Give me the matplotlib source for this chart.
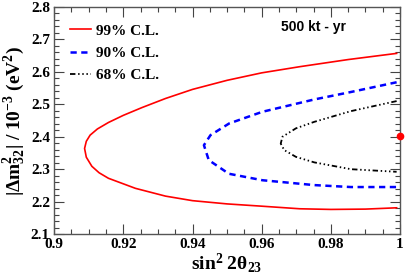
import numpy as np
import matplotlib
matplotlib.use("Agg")
import matplotlib.pyplot as plt
from matplotlib.ticker import MultipleLocator

plt.rcParams["mathtext.fontset"] = "custom"
plt.rcParams["mathtext.bf"] = "Liberation Serif:bold"
plt.rcParams["mathtext.rm"] = "Liberation Serif"
plt.rcParams["mathtext.it"] = "Liberation Serif:italic"

# contour points (sin^2 2theta23, |dm2_32| in 1e-3 eV^2), upper end -> nose -> lower end
cl99_x = [0.999, 0.985, 0.971, 0.960, 0.950, 0.940, 0.9322, 0.9254, 0.9200, 0.9157, 0.9125, 0.9104,
          0.9093, 0.9088, 0.9093, 0.9109, 0.9130, 0.9157, 0.9235, 0.9322, 0.940, 0.950, 0.960,
          0.971, 0.980, 0.990, 0.999]
cl99_y = [2.657, 2.638, 2.616, 2.597, 2.574, 2.546, 2.518, 2.490, 2.466, 2.444, 2.424, 2.405,
          2.386, 2.364, 2.337, 2.309, 2.289, 2.272, 2.241, 2.217, 2.203, 2.193, 2.186,
          2.178, 2.176, 2.177, 2.181]

cl90_x = [0.999, 0.9858, 0.9752, 0.9602, 0.9506, 0.9452, 0.9433,
          0.9447, 0.9505, 0.9602, 0.9752, 0.9858, 0.999]
cl90_y = [2.568, 2.538, 2.515, 2.477, 2.441, 2.405, 2.374,
          2.328, 2.286, 2.266, 2.251, 2.245, 2.245]

cl68_x = [0.999, 0.9858, 0.9752, 0.9699, 0.9660, 0.9655,
          0.9665, 0.9699, 0.9752, 0.9858, 0.999]
cl68_y = [2.510, 2.479, 2.446, 2.426, 2.400, 2.379,
          2.359, 2.338, 2.321, 2.300, 2.292]

best_x = [1.0]
best_y = [2.402]

serif = ["Liberation Serif", "DejaVu Serif"]

fig = plt.figure(figsize=(4.07, 2.80), dpi=100)
ax = fig.add_axes([0.133, 0.164, 0.850, 0.811])

ax.plot(cl99_x, cl99_y, color="red", lw=1.2, label="99% C.L.")
ax.plot(cl90_x, cl90_y, color="blue", lw=1.8, ls=(0, (2.5, 1.8)), label="90% C.L.")
ax.plot(cl68_x, cl68_y, color="black", lw=1.3,
        ls=(0, (3, 1.5, 0.8, 1.5, 0.8, 1.5, 0.8, 1.5)), label="68% C.L.")
ax.plot(best_x, best_y, "o", color="red", ms=4.5, clip_on=False, zorder=5)

ax.set_xlim(0.9, 1.0)
ax.set_ylim(2.1, 2.8)
ax.xaxis.set_minor_locator(MultipleLocator(0.005))
ax.yaxis.set_major_locator(MultipleLocator(0.1))
ax.yaxis.set_minor_locator(MultipleLocator(0.02))
ax.set_xticks([0.9, 0.92, 0.94, 0.96, 0.98, 1.0])
ax.set_xticklabels(["0.9", "0.92", "0.94", "0.96", "0.98", "1"])
ax.tick_params(which="both", direction="in", top=True, right=True, width=0.8, color="#444444")
ax.tick_params(which="major", length=7, pad=3)
ax.tick_params(which="minor", length=3.5)
for lab in ax.get_xticklabels() + ax.get_yticklabels():
    lab.set_fontfamily(serif)
    lab.set_fontweight("bold")
    lab.set_fontsize(11)
for s in ax.spines.values():
    s.set_color("#555555")
    s.set_linewidth(1.0)

ax.set_xlabel(r"$\mathbf{sin^2\ 2\theta_{23}}$", fontsize=14, labelpad=0)
ax.set_ylabel(r"$\mathbf{|\Delta m^2_{32}|\ /\ 10^{-3}\ (eV^2)}$", fontsize=14, labelpad=3)

ax.legend(loc="upper left", bbox_to_anchor=(0.02, 0.965), frameon=False,
          prop={"family": serif, "weight": "bold", "size": 11},
          handlelength=1.35, handletextpad=0.35, borderaxespad=0.2, labelspacing=0.55)

ax.text(0.75, 0.912, "500 kt - yr", transform=ax.transAxes, ha="center", va="center",
        fontsize=10, fontweight="bold", family=["Liberation Sans", "DejaVu Sans"])

fig.savefig("out.png", dpi=100)
